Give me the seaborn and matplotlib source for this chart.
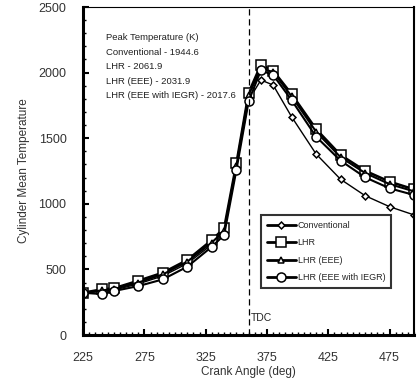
import matplotlib
matplotlib.use("Agg")
import matplotlib.pyplot as plt
import pandas as pd
import seaborn as sns
from matplotlib.ticker import MultipleLocator

sns.set_theme(style="ticks")
plt.rcParams["font.family"] = ["Liberation Sans", "DejaVu Sans"]

# ---------------------------------------------------------------
# Dados
# ---------------------------------------------------------------
crank = [225, 240, 250, 270, 290, 310, 330, 340, 350, 360, 370, 380, 395,
         415, 435, 455, 475, 495]
conventional = [322, 330, 342, 390, 450, 545, 690, 780, 1280, 1790, 1944,
                1905, 1664, 1380, 1187, 1062, 978, 915]
lhr = [322, 348, 356, 414, 475, 572, 724, 815, 1308, 1847, 2060, 2015,
       1837, 1570, 1372, 1252, 1169, 1110]
lhr_eee = [322, 340, 350, 400, 462, 560, 705, 795, 1290, 1830, 2031, 2005,
           1820, 1550, 1355, 1235, 1150, 1095]
lhr_egr = [322, 312, 335, 373, 424, 521, 673, 762, 1257, 1783, 2017, 1982,
           1791, 1512, 1329, 1202, 1118, 1067]

series_names = ["Conventional", "LHR", "LHR (EEE)", "LHR (EEE with IEGR)"]
peak_labels = ["Conventional - 1944.6", "LHR - 2061.9", "LHR (EEE) - 2031.9",
               "LHR (EEE with IEGR) - 2017.6"]

df = pd.DataFrame({
    "Crank Angle (deg)": crank * 4,
    "T": conventional + lhr + lhr_eee + lhr_egr,
    "series": [n for n in series_names for _ in crank],
})

styles = {
    "Conventional": dict(marker="D", markersize=3.5, linewidth=1.0),
    "LHR": dict(marker="s", markersize=6.5, linewidth=1.8),
    "LHR (EEE)": dict(marker="^", markersize=5, linewidth=1.5),
    "LHR (EEE with IEGR)": dict(marker="o", markersize=6.5, linewidth=1.5),
}

fig = plt.figure(figsize=(4.2, 3.9), dpi=100)
ax = fig.add_axes([0.198, 0.141, 0.788, 0.841])

for name in series_names:
    sub = df[df["series"] == name]
    st = styles[name]
    sns.lineplot(data=sub, x="Crank Angle (deg)", y="T", ax=ax, color="black",
                 marker=st["marker"], markersize=st["markersize"],
                 linewidth=st["linewidth"], markerfacecolor="white",
                 markeredgecolor="black", markeredgewidth=1.1, label=name)

ax.axvline(360, color="black", ls=(0, (5, 3)), lw=0.9)
ax.text(361.5, 95, "TDC", fontsize=7.5, color="#222", ha="left", va="bottom")

ax.text(244, 2271, "Peak Temperature (K)", fontsize=6.8, color="#222",
        va="center")
for i, lab in enumerate(peak_labels):
    ax.text(244, 2157 - i * 111, lab, fontsize=6.8, color="#222", va="center")

ax.set_xlim(225, 495)
ax.set_ylim(0, 2500)
ax.set_xticks([225, 275, 325, 375, 425, 475])
ax.xaxis.set_minor_locator(MultipleLocator(5))
ax.yaxis.set_major_locator(MultipleLocator(500))
ax.yaxis.set_minor_locator(MultipleLocator(100))
ax.tick_params(axis="both", which="both", direction="in", colors="black",
               labelcolor="#333", labelsize=9)
ax.tick_params(axis="both", which="major", length=4, width=1.5, pad=12)
ax.tick_params(axis="both", which="minor", length=2.5, width=1.0)
ax.tick_params(axis="y", which="major", pad=12)
ax.set_xlabel("Crank Angle (deg)", fontsize=8.5, color="#333", labelpad=2)
ax.set_ylabel("Cylinder Mean Temperature", fontsize=8.5, color="#333",
              labelpad=6)

for side in ["left", "bottom"]:
    ax.spines[side].set_linewidth(2.2)
ax.spines["top"].set_linewidth(0.8)
ax.spines["right"].set_linewidth(1.5)
for s in ax.spines.values():
    s.set_color("black")

leg = ax.legend(loc="lower left", bbox_to_anchor=(0.525, 0.13), fontsize=6.5,
                frameon=True, fancybox=False, handlelength=3.2,
                borderpad=0.6, labelspacing=0.95, handletextpad=0.2)
leg.get_frame().set_edgecolor("black")
leg.get_frame().set_linewidth(1.5)
for line in leg.get_lines():
    line.set_linewidth(2.0)

fig.savefig("out.png", dpi=100)
